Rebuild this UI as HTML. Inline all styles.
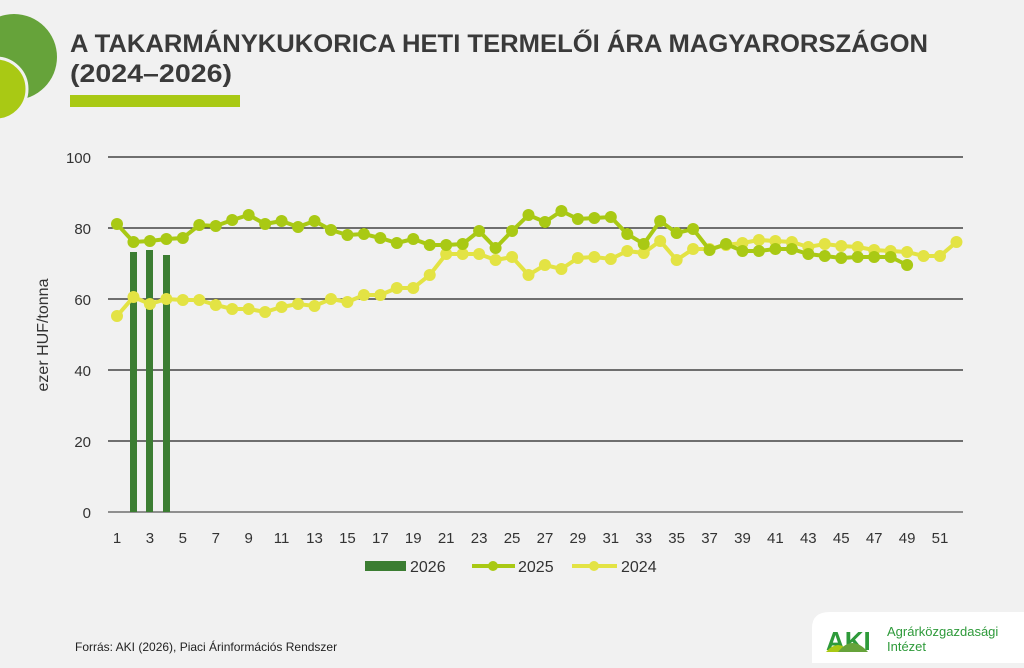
<!DOCTYPE html>
<html><head><meta charset="utf-8"><style>
body{margin:0;width:1024px;height:663px;background:#f1f1f1;overflow:hidden;font-family:"Liberation Sans",sans-serif;}
</style></head><body>
<svg width="1024" height="663" viewBox="0 0 1024 663" xmlns="http://www.w3.org/2000/svg">
<rect width="1024" height="663" fill="#f1f1f1"/>
<circle cx="14" cy="57" r="43" fill="#66a33a"/>
<circle cx="-4" cy="89" r="31" fill="#a9c914" stroke="#f1f1f1" stroke-width="3"/>
<text x="70" y="52" font-family="Liberation Sans, sans-serif" font-weight="bold" font-size="25" fill="#3a3a3a" textLength="858" lengthAdjust="spacingAndGlyphs">A TAKARMÁNYKUKORICA HETI TERMELŐI ÁRA MAGYARORSZÁGON</text>
<text x="70" y="82" font-family="Liberation Sans, sans-serif" font-weight="bold" font-size="25" fill="#3a3a3a" textLength="162" lengthAdjust="spacingAndGlyphs">(2024–2026)</text>
<rect x="70" y="95" width="170" height="12" fill="#a9c914"/>
<g stroke="#222" stroke-width="1.2">
<line x1="108" y1="157" x2="963" y2="157"/><line x1="108" y1="228" x2="963" y2="228"/>
<line x1="108" y1="299" x2="963" y2="299"/><line x1="108" y1="370" x2="963" y2="370"/>
<line x1="108" y1="441" x2="963" y2="441"/><line x1="108" y1="512" x2="963" y2="512" stroke="#555"/>
</g>
<g font-size="15" fill="#333" text-anchor="end">
<text x="91" y="163">100</text><text x="91" y="234">80</text><text x="91" y="305">60</text>
<text x="91" y="376">40</text><text x="91" y="447">20</text><text x="91" y="518">0</text>
</g>
<text transform="translate(48,335) rotate(-90)" font-size="16" fill="#333" text-anchor="middle">ezer HUF/tonna</text>
<g fill="#3b7d32">
<rect x="130" y="252" width="7" height="260"/><rect x="146" y="250" width="7" height="262"/><rect x="163" y="255" width="7" height="257"/>
</g>
<g id="xl" font-size="15" fill="#333" text-anchor="middle"></g>
<polyline id="p24" fill="none" stroke="#e3e344" stroke-width="4"/>
<g id="d24" fill="#e3e344"></g>
<polyline id="p25" fill="none" stroke="#a9c914" stroke-width="4"/>
<g id="d25" fill="#a9c914"></g>
<rect x="365" y="561" width="41" height="10" fill="#3b7d32"/>
<text x="410" y="572" font-size="16" fill="#333">2026</text>
<line x1="472" y1="566" x2="515" y2="566" stroke="#a9c914" stroke-width="4"/><circle cx="493" cy="566" r="5" fill="#a9c914"/>
<text x="518" y="572" font-size="16" fill="#333">2025</text>
<line x1="572" y1="566" x2="617" y2="566" stroke="#e3e344" stroke-width="4"/><circle cx="594" cy="566" r="5" fill="#e3e344"/>
<text x="621" y="572" font-size="16" fill="#333">2024</text>
<text x="75" y="651" font-size="12" fill="#222">Forrás: AKI (2026), Piaci Árinformációs Rendszer</text>
<path d="M812 663 L812 628 Q812 612 830 612 L1024 612 L1024 663 Z" fill="#fff"/>
<text x="826" y="650" font-size="26" font-weight="bold" fill="#2e9a3a">AKI</text>
<path d="M826 652 Q838 638 850 652 Z" fill="#a9c914"/>
<path d="M838 652 Q852 634 868 652 Z" fill="#66a33a"/>
<text x="887" y="636" font-size="13" fill="#2e9a3a">Agrárközgazdasági</text>
<text x="887" y="651" font-size="13" fill="#2e9a3a">Intézet</text>
</svg>
<script>
var X=function(w){return 117+(w-1)*16.46;};
var a25=[224,242,241,239,238,225,226,220,215,224,221,227,221,230,235,234,238,243,239,245,245,244,231,248,231,215,222,211,219,218,217,234,244,221,233,229,250,244,251,251,249,249,254,256,258,257,257,257,265];
var a24=[316,297,304,299,300,300,305,309,309,312,307,304,306,299,302,295,295,288,288,275,254,254,254,260,257,275,265,269,258,257,259,251,253,241,260,249,249,245,243,240,241,242,247,244,246,247,250,251,252,256,256,242];
var ns="http://www.w3.org/2000/svg";
function draw(arr,p,d){var pts=[];var g=document.getElementById(d);arr.forEach(function(y,i){var x=X(i+1);pts.push(x+","+y);var c=document.createElementNS(ns,"circle");c.setAttribute("cx",x);c.setAttribute("cy",y);c.setAttribute("r",6);g.appendChild(c);});document.getElementById(p).setAttribute("points",pts.join(" "));}
draw(a24,"p24","d24");draw(a25,"p25","d25");
var xl=document.getElementById("xl");
for(var w=1;w<=51;w+=2){var t=document.createElementNS(ns,"text");t.setAttribute("x",X(w));t.setAttribute("y",543);t.textContent=w;xl.appendChild(t);}
</script>
</body></html>
